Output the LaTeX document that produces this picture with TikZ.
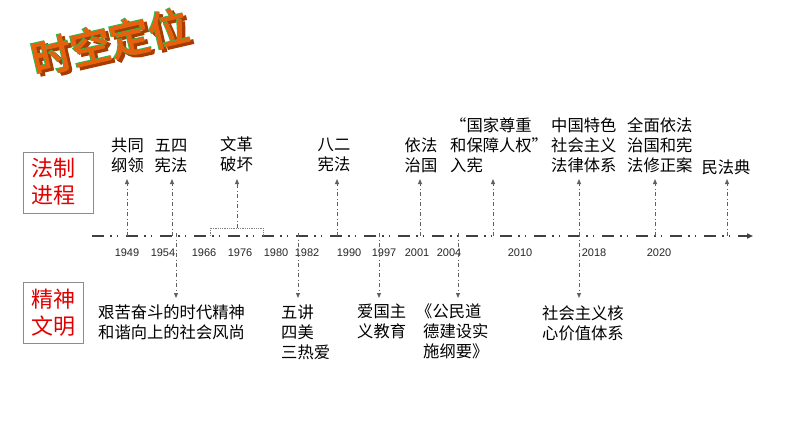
\documentclass[tikz,border=0pt]{standalone}
\usepackage{fontspec}
\setmainfont{Liberation Sans}
\newfontfamily\cjk{Noto Sans CJK SC}
\newfontfamily\cjktitle[FakeBold=3]{Noto Sans CJK SC}
\newfontfamily\cjktitleb[FakeBold=5]{Noto Sans CJK SC}
\usetikzlibrary{arrows.meta}
\definecolor{tlgray}{HTML}{404040}
\definecolor{conngray}{HTML}{606060}
\definecolor{boxgray}{HTML}{8C8C8C}
\definecolor{catred}{HTML}{E00000}
\definecolor{torange}{HTML}{E8600C}
\definecolor{tdark}{HTML}{A83C00}
\definecolor{tgreen}{HTML}{2DB84D}
\begin{document}
\begin{tikzpicture}[x=1pt,y=-1pt,
  tl/.style={draw=tlgray, line width=1.8pt, dash pattern=on 12pt off 6pt on 1.5pt off 5pt on 1.5pt off 8pt},
  conn/.style={draw=conngray, line width=0.9pt, dash pattern=on 4pt off 2.5pt on 1pt off 2.5pt, -{Triangle[length=5pt,width=4pt]}},
  brk/.style={draw=conngray!80, line width=0.8pt, densely dotted},
  ev/.style={font=\cjk\fontsize{16.3}{20}\selectfont, inner sep=0pt, align=left, text=black},
  evc/.style={ev, align=center},
  yr/.style={font=\fontsize{11}{13}\selectfont, inner sep=0pt, text=black!85},
  catbox/.style={draw=boxgray, line width=0.8pt, inner sep=0pt},
  cattext/.style={text=catred, font=\cjk\fontsize{22}{27}\selectfont, inner sep=0pt, align=center},
  ttl/.style={font=\cjktitle\fontsize{40}{40}\selectfont, inner sep=0pt, rotate=13},
  ttlb/.style={font=\cjktitleb\fontsize{40}{40}\selectfont, inner sep=0pt, rotate=13}
]
\useasboundingbox (0,0) rectangle (794,447);

% title (3D lettering)
\node[ttlb, text=tdark, xshift=2.5pt, yshift=-3pt] (tshadow) at (110,42) {时空定位};
\node[ttlb, text=tgreen, xshift=-0.6pt, yshift=0.6pt] (tgreen) at (110,42) {时空定位};
\node[ttl, text=torange] (title) at (110,42) {时空定位};

% category boxes
\node[catbox, minimum width=70pt, minimum height=61pt] (box1) at (58,182.5) {};
\node[cattext] (cat1) at (53.5,182) {法制\\进程};
\node[catbox, minimum width=60pt, minimum height=61pt] (box2) at (53,312.5) {};
\node[cattext] (cat2) at (53.5,313) {精神\\文明};

% timeline
\coordinate (ts) at (92,236);
\coordinate (te) at (753,236);
\draw[tl, -{Triangle[length=6pt,width=5pt]}] (ts) -- (te);

% years
\node[yr] (y1949) at (127,253) {1949};
\node[yr] (y1954) at (163,253) {1954};
\node[yr] (y1966) at (204,253) {1966};
\node[yr] (y1976) at (240,253) {1976};
\node[yr] (y1980) at (276,253) {1980};
\node[yr] (y1982) at (307,253) {1982};
\node[yr] (y1990) at (349,253) {1990};
\node[yr] (y1997) at (384,253) {1997};
\node[yr] (y2001) at (417,253) {2001};
\node[yr] (y2004) at (449,253) {2004};
\node[yr] (y2010) at (520,253) {2010};
\node[yr] (y2018) at (594,253) {2018};
\node[yr] (y2020) at (659,253) {2020};

% upper events
\node[evc] (e1) at (127.5,155) {共同\\纲领};
\node[evc] (e2) at (171,156) {五四\\宪法};
\node[evc] (e3) at (236.5,154) {文革\\破坏};
\node[evc] (e4) at (334,155) {八二\\宪法};
\node[evc] (e5) at (421,155) {依法\\治国};
\node[ev, anchor=west] (e6) at (450,145) {“国家尊重\\和保障人权”\\入宪};
\node[ev, anchor=west] (e7) at (551,145) {中国特色\\社会主义\\法律体系};
\node[ev, anchor=west] (e8) at (627,145) {全面依法\\治国和宪\\法修正案};
\node[evc] (e9) at (726,167) {民法典};

% lower events
\node[ev, anchor=west] (d1) at (98,322) {艰苦奋斗的时代精神\\和谐向上的社会风尚};
\node[ev, anchor=west] (d2) at (281,332) {五讲\\四美\\三热爱};
\node[ev, anchor=west] (d3) at (357,321) {爱国主\\义教育};
\node[ev, anchor=west] (d4) at (423,331) {\hspace*{-7pt}《公民道\\德建设实\\施纲要》};
\node[ev, anchor=west] (d5) at (542,323) {社会主义核\\心价值体系};

% up connectors
\foreach \n/\x in {1/127,2/172,4/337,5/420,6/493,7/579,8/655,9/727} {
  \coordinate (u\n) at (\x,236);
  \coordinate (a\n) at (\x,179);
  \draw[conn] (u\n) -- (a\n);
}
% bracket for 文革
\coordinate (bl) at (210,236);
\coordinate (br) at (263,236);
\coordinate (blt) at (210,228);
\coordinate (brt) at (263,228);
\coordinate (bm) at (237,228);
\coordinate (a3) at (237,179);
\draw[brk] (bl) -- (blt) -- (brt) -- (br);
\draw[conn] (bm) -- (a3);

% down connectors
\foreach \n/\x in {1/176,2/298,3/379,4/458,5/579} {
  \coordinate (v\n) at (\x,233);
  \coordinate (b\n) at (\x,298);
  \draw[conn] (v\n) -- (b\n);
}
\end{tikzpicture}
\end{document}
